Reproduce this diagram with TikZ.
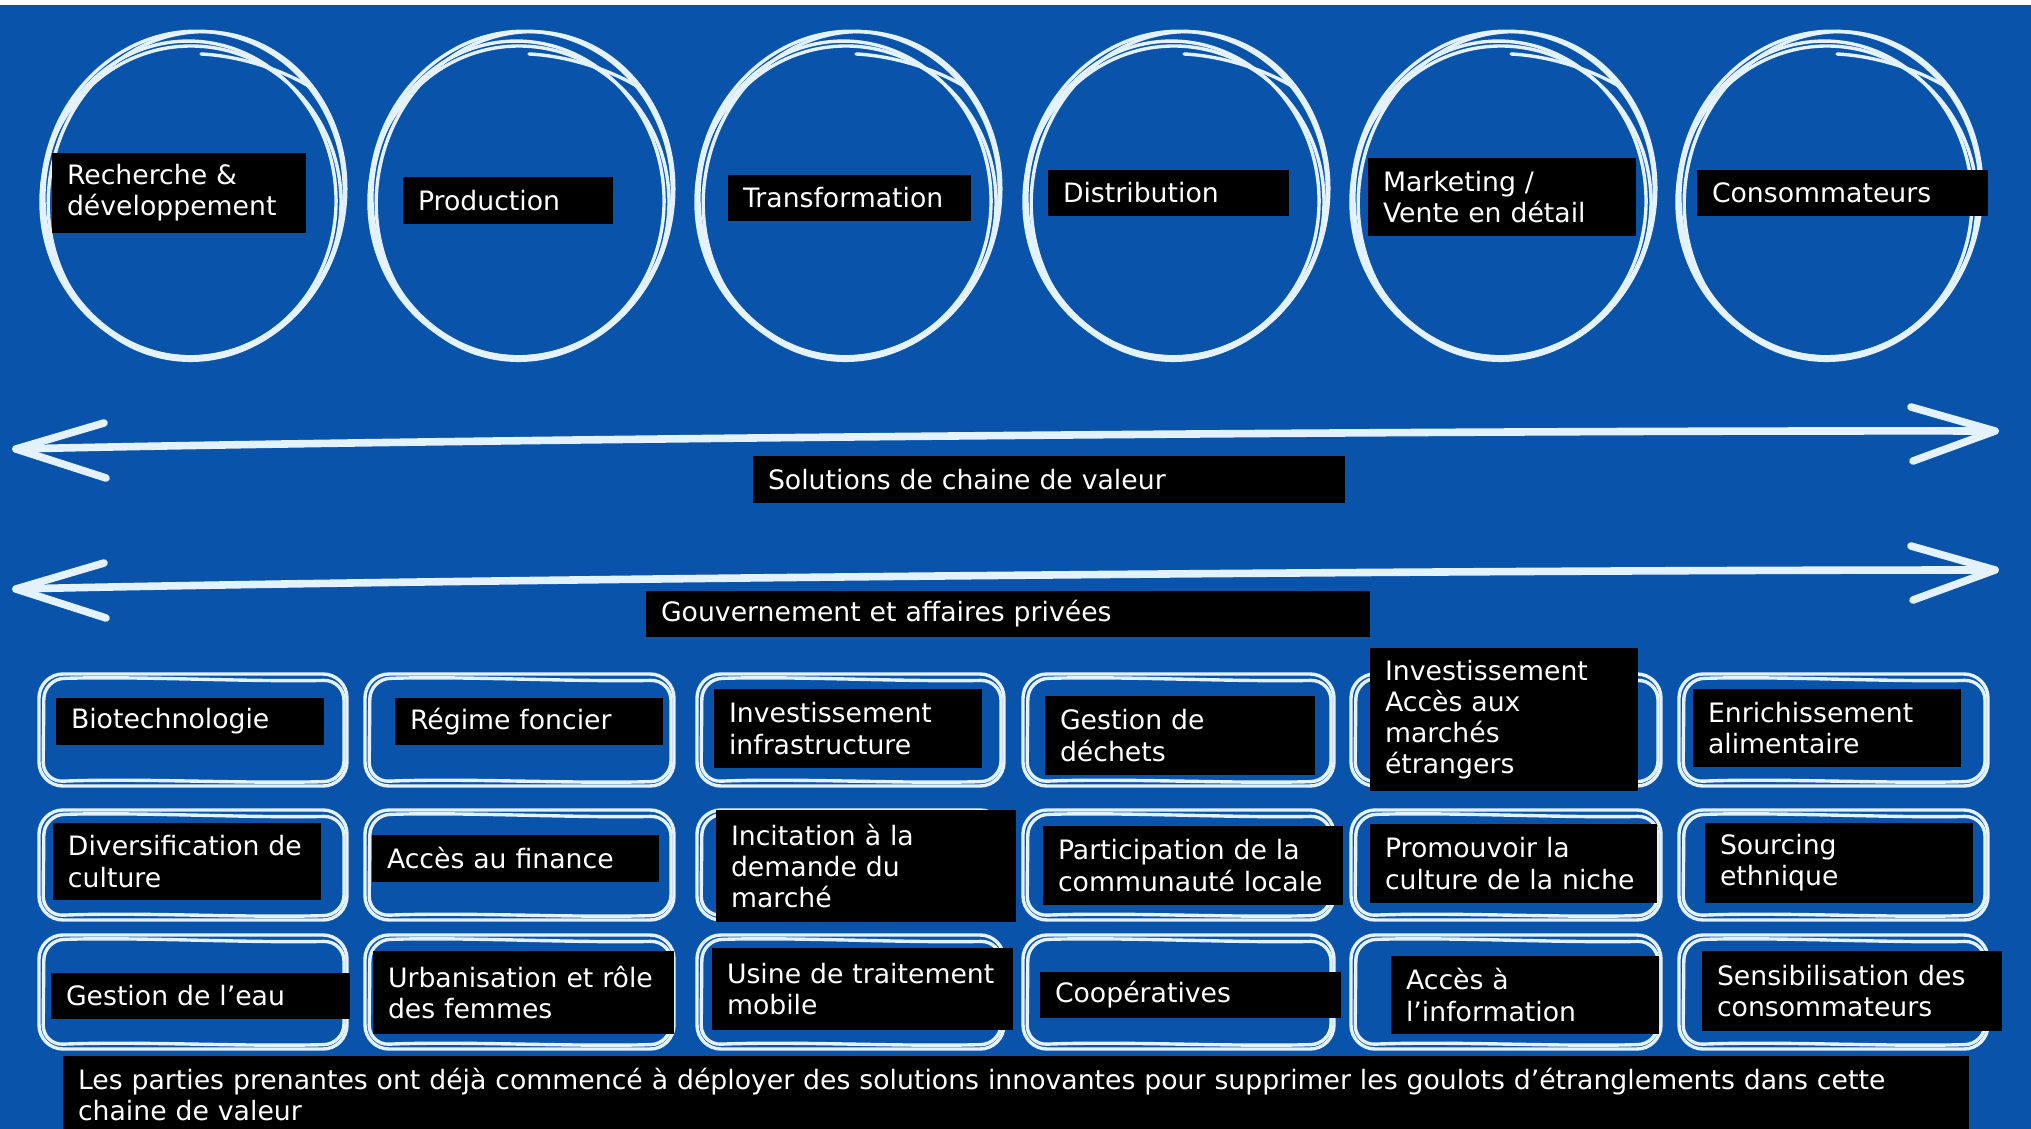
\documentclass[tikz,border=0pt]{standalone}
\usepackage{fontspec}
\setmainfont{DejaVu Sans}
\definecolor{bgblue}{RGB}{9,84,170}
\definecolor{chalk}{RGB}{228,242,253}
\tikzset{
  sk/.style={draw=chalk, line width=1.7pt, line cap=round, line join=round},
  arrowline/.style={draw=chalk, line width=3.8pt, line cap=round, line join=round},
  lbl/.style={fill=black, text=white, inner sep=0pt, align=left,
     font=\fontsize{13.35pt}{15.6pt}\selectfont},
}
\newcommand\ring[3]{%
  \begin{scope}[shift={(#2,#3)}]
    \coordinate (#1) at (0,0);
    \draw[sk] (0,0) ellipse [x radius=151, y radius=163, rotate=-8];
    \draw[sk] (-3,5) ellipse [x radius=146, y radius=158, rotate=4];
    \draw[sk] (4,2) ellipse [x radius=148, y radius=165, rotate=-12];
    \draw[sk] (-2,8) ellipse [x radius=150, y radius=156, rotate=0];
    \draw[sk] (8,-140) .. controls (50,-138) and (95,-122) .. (122,-104);
  \end{scope}}
\newcommand\rbox[5]{%
  \coordinate (#1) at ({(#2+#4)/2},{(#3+#5)/2});
  \draw[sk, rounded corners=12pt] (#2,#3) rectangle (#4,#5);
  \draw[sk, rounded corners=10pt] ({#2+5},{#3+5}) .. controls ({#2+100},{#3+2}) and ({#4-100},{#3+8}) .. ({#4-3},{#3+6})
      -- ({#4-3},{#5-5}) .. controls ({#4-100},{#5-2}) and ({#2+100},{#5-8}) .. ({#2+4},{#5-4}) -- cycle;}
\newcommand\lbox[6]{%
  \pgfmathsetmacro\lw{(#4-#2)*0.5}%
  \pgfmathsetmacro\lh{(#5-#3)*0.5}%
  \pgfmathsetmacro\tw{(#4-#2)*0.5-15}%
  \node[lbl, minimum width=\lw pt, minimum height=\lh pt, text width=\tw pt]
     (#1) at ({(#2+#4)/2},{(#3+#5)/2}) {\raisebox{-2pt}{\parbox{\tw pt}{#6}}};}
\begin{document}
\begin{tikzpicture}[x=0.5pt,y=-0.5pt]
\useasboundingbox (0,0) rectangle (2031,1129);
\fill[white] (0,0) rectangle (2031,1129);
\fill[bgblue] (0,5) rectangle (2031,1129);

% rings
\ring{c1}{193}{194}
\ring{c2}{521}{194}
\ring{c3}{848}{194}
\ring{c4}{1176}{194}
\ring{c5}{1503}{194}
\ring{c6}{1829}{194}

% arrows
\coordinate (a1L) at (16,449);
\coordinate (a1R) at (1995,431);
\draw[arrowline] (a1L) .. controls (400,440) and (1400,430) .. (a1R);
\draw[arrowline] (104,423) -- (a1L) -- (106,478);
\draw[arrowline] (1911,407) -- (a1R) -- (1913,461);
\coordinate (a2L) at (16,589);
\coordinate (a2R) at (1995,570);
\draw[arrowline] (a2L) .. controls (400,580) and (1400,570) .. (a2R);
\draw[arrowline] (104,563) -- (a2L) -- (106,618);
\draw[arrowline] (1911,546) -- (a2R) -- (1913,600);

% grid of rounded boxes
\rbox{b11}{39}{674}{347}{786}
\rbox{b12}{365}{674}{674}{786}
\rbox{b13}{697}{674}{1004}{786}
\rbox{b14}{1023}{674}{1334}{786}
\rbox{b15}{1351}{674}{1661}{786}
\rbox{b16}{1679}{674}{1988}{786}
\rbox{b21}{39}{810}{347}{920}
\rbox{b22}{365}{810}{674}{920}
\rbox{b23}{697}{810}{1004}{920}
\rbox{b24}{1023}{810}{1334}{920}
\rbox{b25}{1351}{810}{1661}{920}
\rbox{b26}{1679}{810}{1988}{920}
\rbox{b31}{39}{935}{347}{1049}
\rbox{b32}{365}{935}{674}{1049}
\rbox{b33}{697}{935}{1004}{1049}
\rbox{b34}{1023}{935}{1334}{1049}
\rbox{b35}{1351}{935}{1661}{1049}
\rbox{b36}{1679}{935}{1988}{1049}

% top labels
\lbox{l1}{52}{153}{306}{233}{Recherche \&\\développement}
\lbox{l2}{403}{177}{613}{224}{Production}
\lbox{l3}{728}{175}{971}{221}{Transformation}
\lbox{l4}{1048}{170}{1289}{216}{Distribution}
\lbox{l5}{1368}{158}{1636}{236}{Marketing /\\Vente en détail}
\lbox{l6}{1697}{170}{1988}{216}{Consommateurs}

\lbox{sol}{753}{456}{1345}{503}{Solutions de chaine de valeur}
\lbox{gov}{646}{591}{1370}{637}{Gouvernement et affaires privées}

% row 1
\lbox{t11}{56}{698}{324}{745}{Biotechnologie}
\lbox{t12}{395}{698}{663}{745}{Régime foncier}
\lbox{t13}{714}{689}{982}{768}{Investissement\\infrastructure}
\lbox{t14}{1045}{696}{1315}{775}{Gestion de\\déchets}
\lbox{t15}{1370}{648}{1638}{791}{Investissement\\Accès aux\\marchés\\étrangers}
\lbox{t16}{1693}{689}{1961}{767}{Enrichissement\\alimentaire}
% row 2
\lbox{t21}{53}{823}{321}{900}{Diversification de\\culture}
\lbox{t22}{372}{835}{659}{882}{Accès au finance}
\lbox{t23}{716}{810}{1016}{922}{Incitation à la\\demande du\\marché}
\lbox{t24}{1043}{826}{1343}{905}{Participation de la\\communauté locale}
\lbox{t25}{1370}{824}{1657}{903}{Promouvoir la\\culture de la niche}
\lbox{t26}{1705}{823}{1973}{903}{Sourcing\\ethnique}
% row 3
\lbox{t31}{51}{973}{350}{1019}{Gestion de l’eau}
\lbox{t32}{373}{951}{674}{1034}{Urbanisation et rôle\\des femmes}
\lbox{t33}{712}{948}{1013}{1030}{Usine de traitement\\mobile}
\lbox{t34}{1040}{972}{1341}{1018}{Coopératives}
\lbox{t35}{1391}{956}{1659}{1034}{Accès à\\l’information}
\lbox{t36}{1702}{951}{2002}{1031}{Sensibilisation des\\consommateurs}

% bottom
\lbox{bot}{63}{1056}{1969}{1133}{Les parties prenantes ont déjà commencé à déployer des solutions innovantes pour supprimer les goulots d’étranglements dans cette\\chaine de valeur}
\end{tikzpicture}
\end{document}
